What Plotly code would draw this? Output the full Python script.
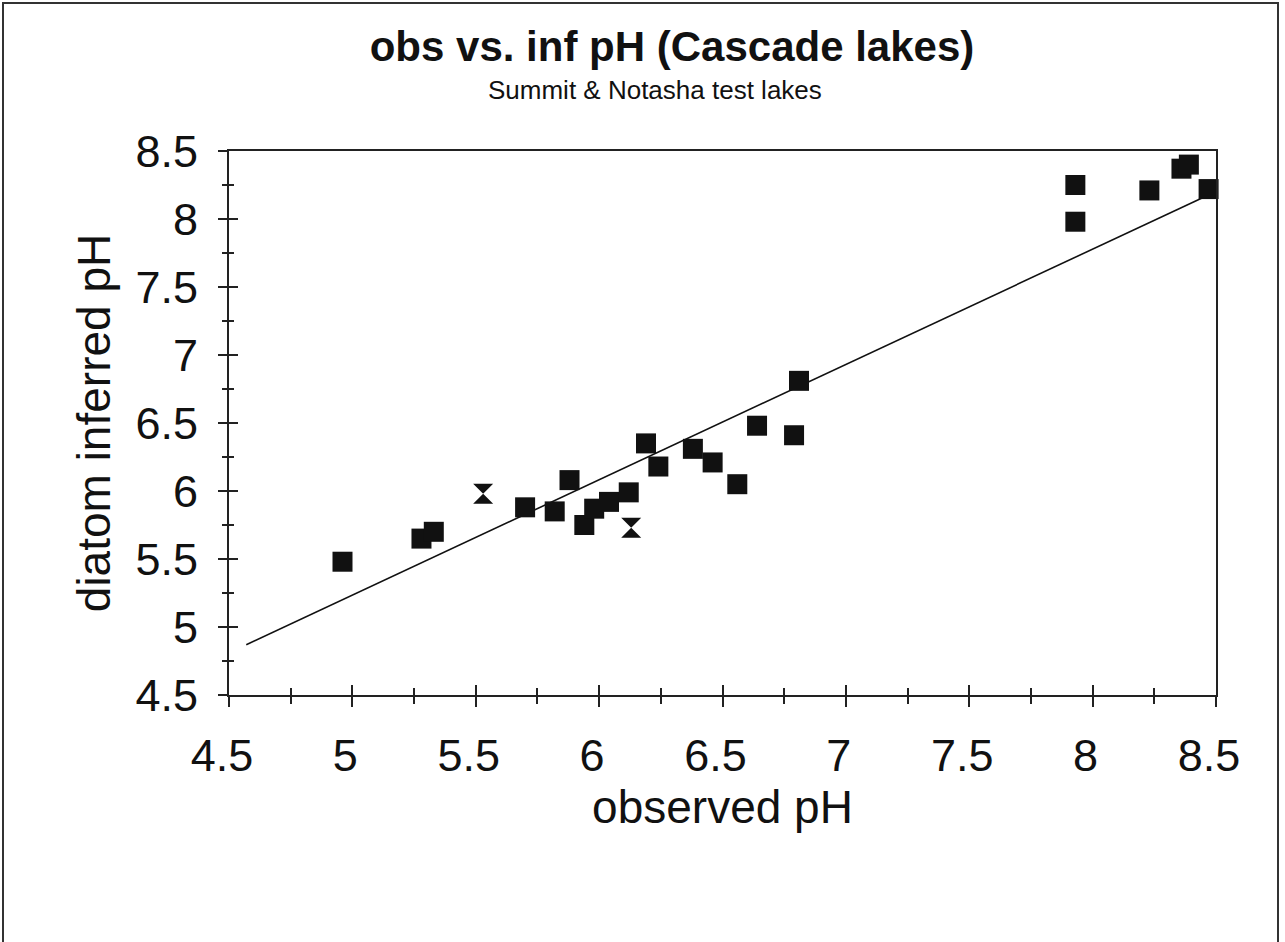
import plotly.graph_objects as go

# ---- data ----
square_obs = [4.96, 5.28, 5.33, 5.70, 5.82, 5.88, 5.94, 5.98, 6.04, 6.12, 6.19, 6.24,
              6.38, 6.46, 6.56, 6.64, 6.79, 6.81, 7.93, 7.93, 8.23, 8.36, 8.39, 8.47]
square_inf = [5.48, 5.65, 5.70, 5.88, 5.85, 6.08, 5.75, 5.87, 5.92, 5.99, 6.35, 6.18,
              6.31, 6.21, 6.05, 6.48, 6.41, 6.81, 8.25, 7.98, 8.21, 8.37, 8.40, 8.22]
test_obs = [5.53, 6.13]
test_inf = [5.98, 5.73]
fit_obs = [4.57, 8.45]
fit_inf = [4.87, 8.16]

title_text = "obs vs. inf pH (Cascade lakes)"
subtitle_text = "Summit & Notasha test lakes"
x_title = "observed pH"
y_title = "diatom inferred pH"

W, H = 1285, 942
ML, MR, MT, MB = 229, 69, 151, 247
FONT = "Liberation Sans, Arial, sans-serif"

fig = go.Figure()
fig.add_trace(go.Scatter(x=fit_obs, y=fit_inf, mode="lines",
                         line=dict(color="#111", width=1.6), showlegend=False, hoverinfo="skip"))
fig.add_trace(go.Scatter(x=square_obs, y=square_inf, mode="markers",
                         marker=dict(symbol="square", size=20, color="#111", line=dict(width=0)),
                         showlegend=False, cliponaxis=False))
fig.add_trace(go.Scatter(x=test_obs, y=test_inf, mode="markers",
                         marker=dict(symbol="hourglass", size=20, color="#111", line=dict(width=0)),
                         showlegend=False, cliponaxis=False))
# invisible trace to carry the overlay axes (inner half of crossing ticks)
fig.add_trace(go.Scatter(x=fit_obs, y=fit_inf, mode="lines", line=dict(width=0),
                         opacity=0, xaxis="x2", yaxis="y2", showlegend=False, hoverinfo="skip"))

axis_common = dict(range=[4.5, 8.5], tick0=4.5, dtick=0.5, showgrid=False, zeroline=False)

fig.update_layout(
    width=W, height=H,
    margin=dict(l=ML, r=MR, t=MT, b=MB),
    paper_bgcolor="white", plot_bgcolor="white",
    font=dict(family=FONT, color="#111"),
    title=dict(text="<b>" + title_text + "</b>", x=672 / W, xref="container", xanchor="center",
               y=1 - 46 / H, yref="container", yanchor="middle",
               font=dict(size=42, family=FONT, color="#111")),
    xaxis=dict(**axis_common, showline=True, linecolor="#222", linewidth=2, mirror=True,
               ticks="outside", ticklen=10, tickwidth=1.5, tickcolor="#222",
               minor=dict(dtick=0.25, ticks="outside", ticklen=7, tickwidth=1.5, tickcolor="#222"),
               tickfont=dict(size=45, family=FONT, color="#111"), ticklabelstandoff=10,
               ticklabelshift=-7,
               title=dict(text=x_title, font=dict(size=46, family=FONT, color="#111"), standoff=10)),
    yaxis=dict(**axis_common, showline=True, linecolor="#222", linewidth=2, mirror=True,
               ticks="outside", ticklen=9, tickwidth=1.5, tickcolor="#222",
               minor=dict(dtick=0.25, ticks="outside", ticklen=5, tickwidth=1.5, tickcolor="#222"),
               tickfont=dict(size=45, family=FONT, color="#111"), ticklabelstandoff=11,
               title=dict(text=y_title, font=dict(size=46, family=FONT, color="#111"), standoff=10)),
    xaxis2=dict(**axis_common, overlaying="x", matches="x", anchor="y2", showline=False,
                ticks="inside", ticklen=10, tickwidth=1.5, tickcolor="#222", showticklabels=False,
                minor=dict(dtick=0.25, ticks="inside", ticklen=7, tickwidth=1.5, tickcolor="#222")),
    yaxis2=dict(**axis_common, overlaying="y", matches="y", anchor="x2", showline=False,
                ticks="inside", ticklen=9, tickwidth=1.5, tickcolor="#222", showticklabels=False,
                minor=dict(dtick=0.25, ticks="inside", ticklen=5, tickwidth=1.5, tickcolor="#222")),
)

fig.add_annotation(text=subtitle_text, xref="paper", yref="paper",
                   x=(655 - ML) / (W - ML - MR), y=(H - MB - 90) / (H - MT - MB),
                   xanchor="center", yanchor="middle", showarrow=False,
                   font=dict(size=26, family=FONT, color="#111"))

# outer page frame
pw, ph = W - ML - MR, H - MT - MB
fig.add_shape(type="rect", xref="paper", yref="paper",
              x0=(3 - ML) / pw, x1=(1278 - ML) / pw,
              y0=(H - MB - 960) / ph, y1=(H - MB - 3) / ph,
              line=dict(color="#333", width=2), fillcolor="rgba(0,0,0,0)", layer="below")

fig.write_html("out.html")
